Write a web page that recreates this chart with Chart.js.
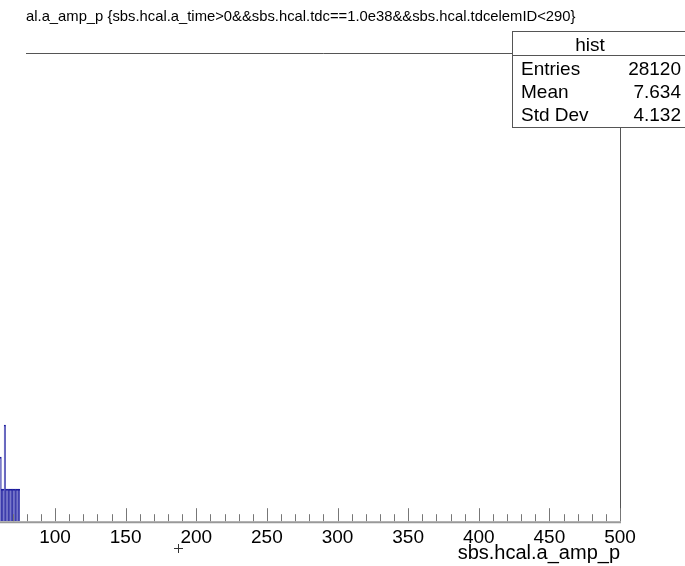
<!DOCTYPE html>
<html>
<head>
<meta charset="utf-8">
<script src="https://cdn.jsdelivr.net/npm/chart.js@4.4.1/dist/chart.umd.min.js"></script>
<style>
  html, body { margin: 0; padding: 0; background: #fff; }
  #wrap { position: relative; width: 685px; height: 566px; }
</style>
</head>
<body>
<div id="wrap"><canvas id="myChart" width="685" height="566"></canvas></div>
<script>
// Histogram bins (lower edge, width 1) visible in the cropped view
const binLow = [61, 62, 63, 64, 65, 66, 67, 68, 69, 70, 71, 72, 73, 74];
const counts = [2, 1, 1, 3, 1, 1, 1, 1, 1, 1, 1, 1, 1, 1];

// Axis ticks
const majorTicks = [100, 150, 200, 250, 300, 350, 400, 450, 500];
const minorTicks = [70, 80, 90, 110, 120, 130, 140, 160, 170, 180, 190, 210, 220, 230, 240,
  260, 270, 280, 290, 310, 320, 330, 340, 360, 370, 380, 390, 410, 420, 430, 440,
  460, 470, 480, 490];

// Stats box
const statsTitle = 'hist';
const statsLabels = ['Entries', 'Mean', 'Std Dev'];
const statsValues = ['28120', '7.634', '4.132'];

const titleText = 'al.a_amp_p {sbs.hcal.a_time>0&&sbs.hcal.tdc==1.0e38&&sbs.hcal.tdcelemID<290}';
const axisTitle = 'sbs.hcal.a_amp_p';
const FONT = "'Liberation Sans', Arial, sans-serif";

const ctx = document.getElementById('myChart').getContext('2d');

// Dibuja marco, ticks hacia dentro, caja de estadisticas y titulo
const rootStyle = {
  id: 'rootStyle',
  afterDraw(chart) {
    const c = chart.ctx;
    const a = chart.chartArea;
    const xs = chart.scales.x;
    c.save();

    // frame
    c.strokeStyle = '#555';
    c.lineWidth = 1;
    c.beginPath();
    c.moveTo(26, a.top + 0.5);
    c.lineTo(a.right + 0.5, a.top + 0.5);
    c.lineTo(a.right + 0.5, a.bottom);
    c.stroke();

    // x axis line
    c.strokeStyle = '#999';
    c.lineWidth = 2;
    c.beginPath();
    c.moveTo(0, a.bottom + 1);
    c.lineTo(a.right + 1, a.bottom + 1);
    c.stroke();

    // ticks pointing up
    c.strokeStyle = '#777';
    c.lineWidth = 1;
    c.beginPath();
    majorTicks.forEach(v => {
      const px = Math.round(xs.getPixelForValue(v)) + 0.5;
      c.moveTo(px, a.bottom);
      c.lineTo(px, a.bottom - 13);
    });
    minorTicks.forEach(v => {
      const px = Math.round(xs.getPixelForValue(v)) + 0.5;
      c.moveTo(px, a.bottom);
      c.lineTo(px, a.bottom - 7);
    });
    c.stroke();

    // small marker
    c.strokeStyle = '#333';
    c.beginPath();
    c.moveTo(174, 548.5); c.lineTo(183, 548.5);
    c.moveTo(178.5, 544); c.lineTo(178.5, 553);
    c.stroke();

    // title
    c.fillStyle = '#000';
    c.font = '14.8px ' + FONT;
    c.textAlign = 'left';
    c.textBaseline = 'alphabetic';
    c.fillText(titleText, 26, 21);

    // stats box
    const bx = 512.5, by = 31.5, bw = 200, bh = 96;
    c.fillStyle = '#fff';
    c.fillRect(bx, by, bw, bh);
    c.strokeStyle = '#555';
    c.strokeRect(bx, by, bw, bh);
    c.beginPath();
    c.moveTo(bx, 55.5);
    c.lineTo(bx + bw, 55.5);
    c.stroke();
    c.fillStyle = '#000';
    c.font = '19px ' + FONT;
    c.textAlign = 'center';
    c.fillText(statsTitle, 590, 51);
    statsLabels.forEach((lab, i) => {
      const y = 75 + i * 23;
      c.textAlign = 'left';
      c.fillText(lab, 521, y);
      c.textAlign = 'right';
      c.fillText(statsValues[i], 681, y);
    });
    c.restore();
  }
};

const data = {
  datasets: [{
    label: 'hist',
    data: binLow.map((lo, i) => ({ x: lo + 0.5, y: counts[i] })),
    backgroundColor: 'rgba(30, 30, 170, 0.55)',
    borderColor: '#1c1c9c',
    borderWidth: 1,
    barPercentage: 1.0,
    categoryPercentage: 1.0
  }]
};

const config = {
  type: 'bar',
  data: data,
  options: {
    responsive: false,
    animation: false,
    layout: {
      padding: { left: 0, right: 65, top: 53, bottom: 1 }
    },
    plugins: {
      legend: { display: false },
      tooltip: { enabled: false },
      title: { display: false }
    },
    scales: {
      x: {
        type: 'linear',
        min: 61.06,
        max: 500,
        offset: false,
        grid: { display: false, drawTicks: false },
        border: { display: false },
        afterBuildTicks: (scale) => {
          scale.ticks = majorTicks.map(v => ({ value: v }));
        },
        ticks: {
          autoSkip: false,
          maxRotation: 0,
          padding: 5,
          color: '#000',
          font: { size: 19, family: FONT },
          callback: (v) => String(v)
        },
        title: {
          display: true,
          text: axisTitle,
          align: 'end',
          color: '#000',
          font: { size: 20, family: FONT },
          padding: { top: -13, bottom: 0 }
        }
      },
      y: {
        display: false,
        min: 0,
        max: 14.6
      }
    }
  },
  plugins: [rootStyle]
};

new Chart(ctx, config);
</script>
</body>
</html>
